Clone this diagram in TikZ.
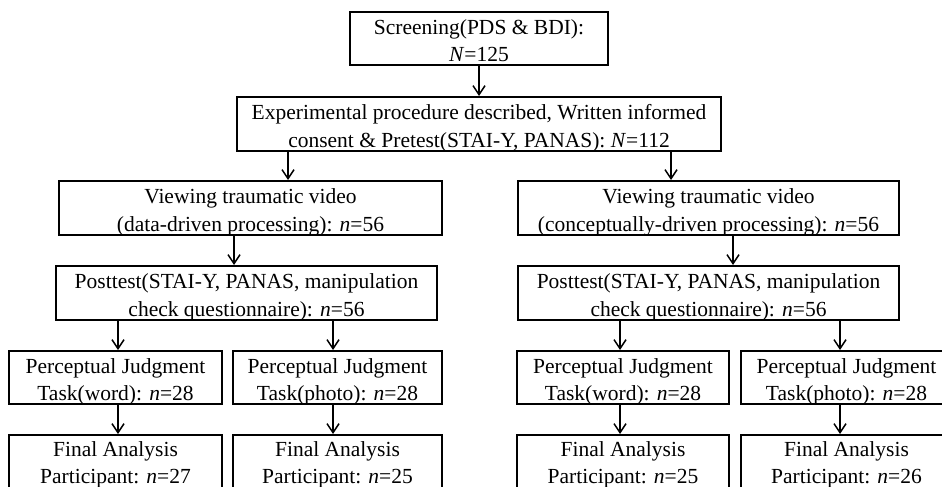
\documentclass[tikz,border=0pt]{standalone}
\usepackage{fontspec}
\setmainfont{Liberation Serif}
\usetikzlibrary{arrows.meta}
\begin{document}
\begin{tikzpicture}[x=1pt,y=-1pt,
  box/.style={draw=black,line width=2pt,inner sep=0pt,align=center,
    text height=49pt,text depth=3pt,
    font=\fontsize{21.5}{27.5}\selectfont},
  lastbox/.style={box,text height=47.5pt,text depth=4.5pt},
  arr/.style={line width=1.5pt,-{Straight Barb[length=9pt,width=12pt,line width=1.5pt]}}]
\useasboundingbox (0,0) rectangle (942,487);
\fill[white] (0,0) rectangle (942,487);
% row 1
\node[box,minimum width=258pt,minimum height=53pt] (b1) at (479,38.5) {Screening(PDS \& BDI):\\\textit{N}=125};
\node[box,minimum width=484pt,minimum height=54pt] (b2) at (479,124) {Experimental procedure described, Written informed\\consent \& Pretest(STAI-Y, PANAS): \textit{N}=112};
% row 3
\node[box,minimum width=383pt,minimum height=54pt] (b3L) at (250.5,208) {Viewing traumatic video\\(data-driven processing): \textit{n}=56};
\node[box,minimum width=381pt,minimum height=54pt] (b3R) at (708.5,208) {Viewing traumatic video\\(conceptually-driven processing): \textit{n}=56};
% row 4
\node[box,minimum width=381pt,minimum height=54pt] (b4L) at (246.5,293) {Posttest(STAI-Y, PANAS, manipulation\\check questionnaire): \textit{n}=56};
\node[box,minimum width=381pt,minimum height=54pt] (b4R) at (708.5,293) {Posttest(STAI-Y, PANAS, manipulation\\check questionnaire): \textit{n}=56};
% row 5
\node[box,minimum width=213pt,minimum height=53pt] (b5a) at (115.5,377.5) {Perceptual Judgment\\Task(word): \textit{n}=28};
\node[box,minimum width=209pt,minimum height=53pt] (b5b) at (337.5,377.5) {Perceptual Judgment\\Task(photo): \textit{n}=28};
\node[box,minimum width=212pt,minimum height=53pt] (b5c) at (623,377.5) {Perceptual Judgment\\Task(word): \textit{n}=28};
\node[box,minimum width=211pt,minimum height=53pt] (b5d) at (846.5,377.5) {Perceptual Judgment\\Task(photo): \textit{n}=28};
% row 6
\node[lastbox,minimum width=213pt,minimum height=54pt] (b6a) at (115.5,462) {Final Analysis\\Participant: \textit{n}=27};
\node[lastbox,minimum width=209pt,minimum height=54pt] (b6b) at (337.5,462) {Final Analysis\\Participant: \textit{n}=25};
\node[lastbox,minimum width=212pt,minimum height=54pt] (b6c) at (623,462) {Final Analysis\\Participant: \textit{n}=25};
\node[lastbox,minimum width=211pt,minimum height=54pt] (b6d) at (846.5,462) {Final Analysis\\Participant: \textit{n}=26};
% arrow columns
\coordinate (xa) at (288,0);
\coordinate (xb) at (671,0);
\coordinate (xc) at (234,0);
\coordinate (xd) at (733,0);
\coordinate (xe) at (118,0);
\coordinate (xf) at (333,0);
\coordinate (xg) at (620,0);
\coordinate (xh) at (840,0);
% arrows
\draw[arr] (b1.south) -- (b2.north);
\draw[arr] (b2.south -| xa) -- (b3L.north -| xa);
\draw[arr] (b2.south -| xb) -- (b3R.north -| xb);
\draw[arr] (b3L.south -| xc) -- (b4L.north -| xc);
\draw[arr] (b3R.south -| xd) -- (b4R.north -| xd);
\draw[arr] (b4L.south -| xe) -- (b5a.north -| xe);
\draw[arr] (b4L.south -| xf) -- (b5b.north -| xf);
\draw[arr] (b4R.south -| xg) -- (b5c.north -| xg);
\draw[arr] (b4R.south -| xh) -- (b5d.north -| xh);
\draw[arr] (b5a.south -| xe) -- (b6a.north -| xe);
\draw[arr] (b5b.south -| xf) -- (b6b.north -| xf);
\draw[arr] (b5c.south -| xg) -- (b6c.north -| xg);
\draw[arr] (b5d.south -| xh) -- (b6d.north -| xh);
\end{tikzpicture}
\end{document}
